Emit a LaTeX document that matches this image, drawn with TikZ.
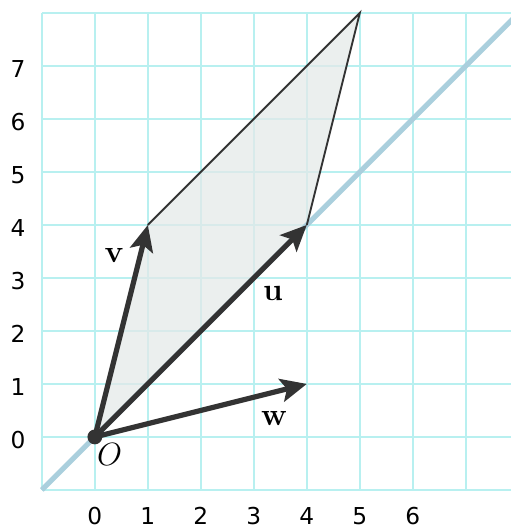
\documentclass[tikz,border=0pt]{standalone}
\usepackage{fontspec}
\newfontfamily\dejavu{DejaVu Sans}
\usetikzlibrary{arrows.meta}
\definecolor{gridc}{RGB}{184,240,240}
\definecolor{linec}{RGB}{170,207,221}
\definecolor{vecc}{RGB}{51,51,51}
\definecolor{fillc}{RGB}{228,233,232}
\tikzset{
  gridline/.style={draw=gridc, line width=1.2pt},
  diagline/.style={draw=linec, line width=2.7pt},
  vecline/.style={draw=vecc, line width=2.8pt, -{Stealth[length=14pt,width=12.5pt,inset=3pt]}},
  edgeline/.style={draw=vecc, line width=1pt},
  ticklab/.style={font=\dejavu\fontsize{12.5}{14}\selectfont, text=black, inner sep=0pt, anchor=base},
  veclab/.style={font=\bfseries\fontsize{17}{19}\selectfont, text=black},
}
\begin{document}
\begin{tikzpicture}
\useasboundingbox (-1.79,-1.70) rectangle (7.85,8.245);
\draw[gridline] (-1,-1) grid (7.85,8);
\coordinate (O) at (0,0);
\coordinate (U) at (4,4);
\coordinate (V) at (1,4);
\coordinate (W) at (4,1);
\coordinate (S) at (5,8);
\coordinate (L0) at (-1,-1);
\coordinate (L1) at (8,8);
\fill[fillc, fill opacity=0.75] (O) -- (U) -- (S) -- (V) -- cycle;
\begin{scope}
\clip (-1.79,-1.70) rectangle (7.85,8.245);
\draw[diagline] (L0) -- (L1);
\end{scope}
\draw[edgeline] (V) -- (S) -- (U);
\draw[vecline] (O) -- (U);
\draw[vecline] (O) -- (V);
\draw[vecline] (O) -- (W);
\fill[vecc] (O) circle (0.14);
\foreach \i in {0,...,6} \node[ticklab] (xl\i) at (\i,-1.645) {\i};
\foreach \j in {0,...,7} \node[ticklab] (yl\j) at (-1.45,\j-0.21) {\j};
\node[veclab] (lv) at (0.36,3.43) {v};
\node[veclab] (lu) at (3.36,2.70) {u};
\node[veclab] (lw) at (3.38,0.34) {w};
\node[font=\fontsize{19}{21}\selectfont] (lo) at (0.28,-0.34) {$O$};
\end{tikzpicture}
\end{document}
